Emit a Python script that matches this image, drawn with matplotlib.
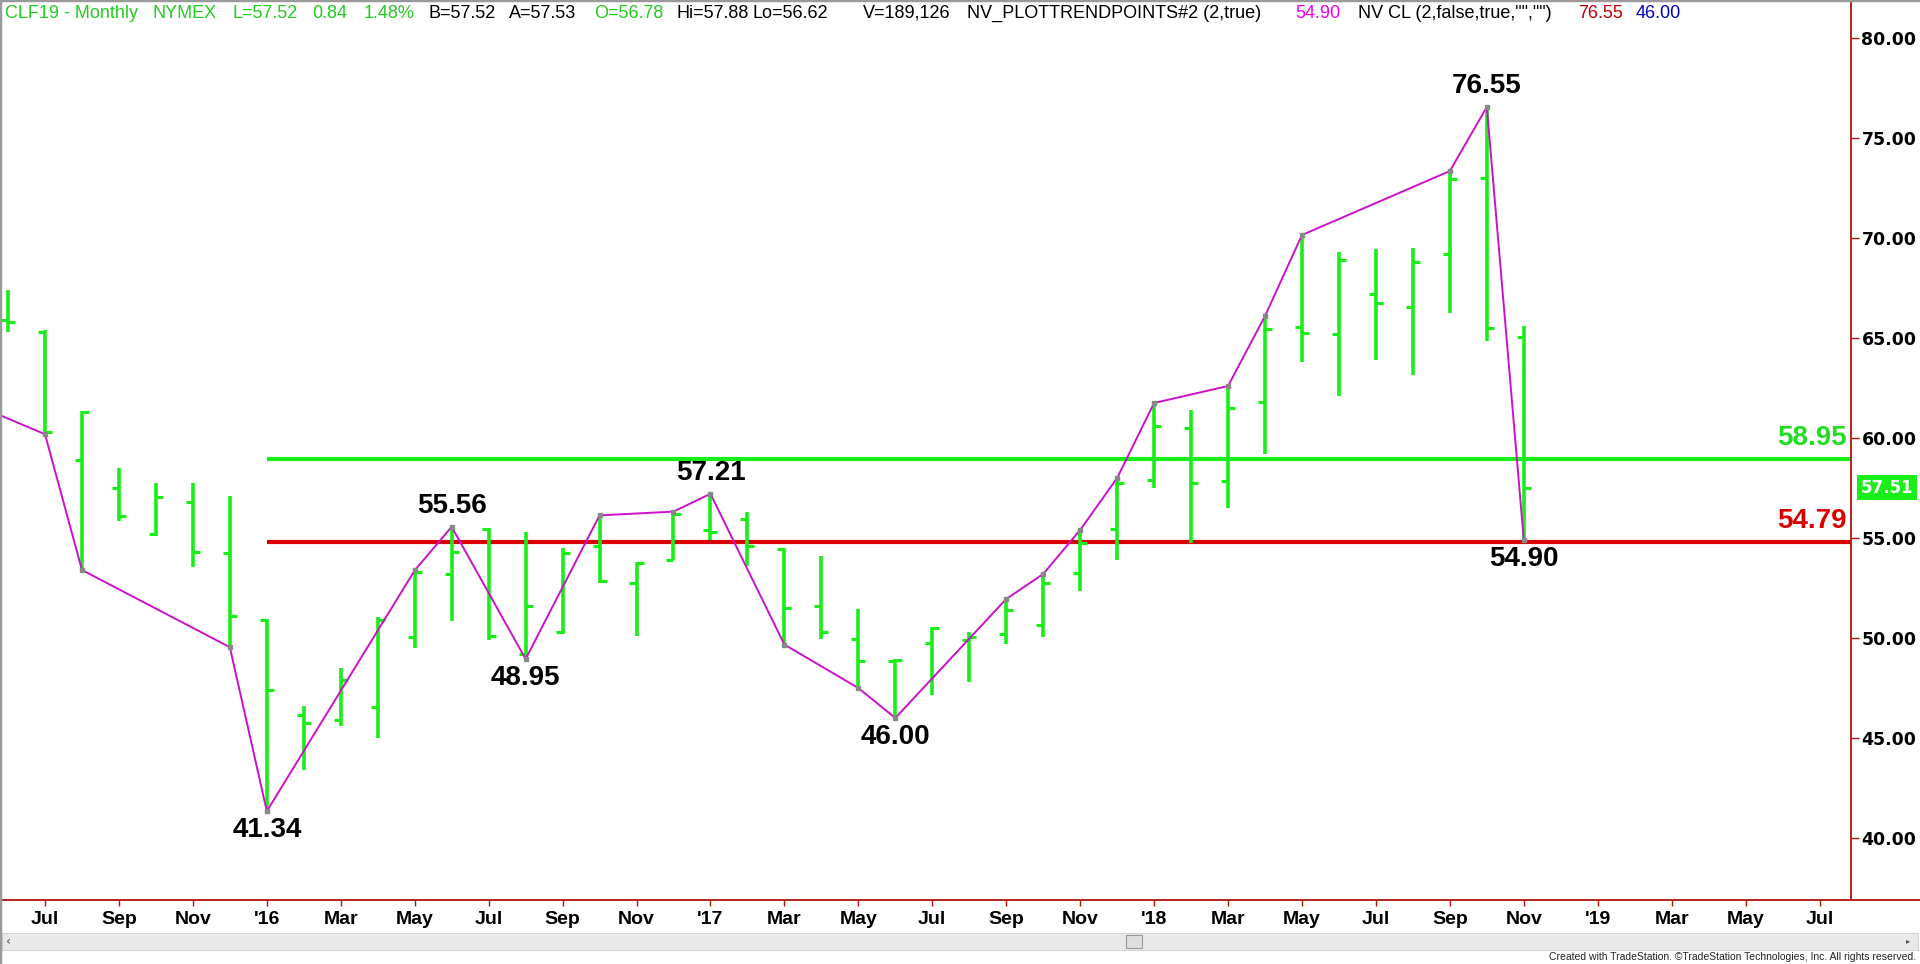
import matplotlib
matplotlib.use("Agg")
import matplotlib.pyplot as plt
from matplotlib.patches import Rectangle
from matplotlib.lines import Line2D

# monthly bars, month index 0 = Jul 2015
bar_month = list(range(-1, 41))
opens = [65.9, 65.3, 58.9, 57.5, 55.2, 56.8, 54.25, 50.9, 46.15, 45.9, 46.55,
         50.05, 53.2, 55.45, 49.2, 50.3, 54.6, 52.75, 53.9, 55.4, 55.95, 54.45,
         51.6, 49.95, 48.85, 49.75, 49.9, 50.2, 50.65, 53.25, 55.45, 57.9, 60.5,
         57.85, 61.8, 65.55, 65.2, 67.2, 66.55, 69.2, 73.0, 65.05]
highs = [67.4, 65.4, 61.35, 58.5, 57.75, 57.75, 57.1, 50.95, 46.6, 48.5, 51.05,
         53.38, 55.56, 55.5, 55.3, 54.5, 56.13, 53.8, 56.32, 57.21, 56.3, 54.5,
         54.1, 51.45, 48.95, 50.55, 50.3, 51.95, 53.2, 55.4, 58.0, 61.75, 61.4,
         62.6, 66.1, 70.15, 69.3, 69.45, 69.5, 73.35, 76.55, 65.6]
lows = [65.3, 60.19, 53.4, 55.85, 55.1, 53.55, 49.54, 41.34, 43.4, 45.6, 45.0,
        49.5, 50.85, 49.9, 48.95, 50.2, 52.75, 50.1, 53.9, 54.9, 53.6, 49.67,
        49.95, 47.5, 46.0, 47.15, 47.8, 49.7, 50.05, 52.35, 53.9, 57.5, 54.75,
        56.5, 59.2, 63.8, 62.1, 63.9, 63.15, 66.25, 64.85, 54.90]
closes = [65.8, 60.3, 61.3, 56.1, 57.05, 54.3, 51.1, 47.4, 45.75, 47.9, 50.9,
          53.3, 54.3, 50.1, 51.6, 54.25, 52.85, 53.75, 56.2, 55.3, 54.6, 51.5,
          50.3, 48.85, 48.9, 50.5, 50.05, 51.4, 52.75, 54.75, 57.75, 60.6, 57.75,
          61.5, 65.45, 65.25, 68.9, 66.75, 68.8, 72.95, 65.5, 57.52]

# trend points (NV_PLOTTRENDPOINTS)
pivot_month = [-2, 0, 1, 5, 6, 10, 11, 13, 15, 17, 18, 20, 22, 23, 26, 27, 28,
               29, 30, 32, 33, 34, 38, 39, 40]
pivot_price = [61.75, 60.19, 53.4, 49.54, 41.34, 53.38, 55.56, 48.95, 56.13,
               56.32, 57.21, 49.67, 47.5, 46.0, 51.95, 53.2, 55.4, 58.0, 61.75,
               62.6, 66.1, 70.15, 73.35, 76.55, 54.90]

label_month = [6, 11, 13, 18, 23, 39, 40]
label_price = [41.34, 55.56, 48.95, 57.21, 46.00, 76.55, 54.90]
label_above = [False, True, False, True, False, True, False]

level_prices = [58.95, 54.79]
level_start = 6
last_price = 57.51

month_ticks = list(range(0, 49, 2))
month_labels = ["Jul", "Sep", "Nov", "'16", "Mar", "May", "Jul", "Sep", "Nov",
                "'17", "Mar", "May", "Jul", "Sep", "Nov", "'18", "Mar", "May",
                "Jul", "Sep", "Nov", "'19", "Mar", "May", "Jul"]
year_ticks = [6, 18, 30, 42]
price_ticks = [40, 45, 50, 55, 60, 65, 70, 75, 80]

header = [("CLF19 - Monthly", "#22cc22"), ("NYMEX", "#22cc22"),
          ("L=57.52", "#22cc22"), ("0.84", "#22cc22"), ("1.48%", "#22cc22"),
          ("B=57.52", "black"), ("A=57.53", "black"), ("O=56.78", "#22cc22"),
          ("Hi=57.88", "black"), ("Lo=56.62", "black"), ("V=189,126", "black"),
          ("NV_PLOTTRENDPOINTS#2 (2,true)", "black"), ("54.90", "#ee00ee"),
          ('NV CL (2,false,true,"","")', "black"), ("76.55", "#c00000"),
          ("46.00", "#0000bb")]
header_x = [5, 153, 233, 312, 364, 428, 509, 594, 676, 753, 863, 967, 1295,
            1358, 1578, 1636]

W, H = 1920, 964
GREEN = "#19ee19"
RED = "#d80000"
AXC = "#b01010"
FONT = "Liberation Sans"

fig = plt.figure(figsize=(W / 100, H / 100), dpi=100)
fig.patch.set_facecolor("white")
ax = fig.add_axes([0, (H - 900) / H, 1851 / W, 900 / H])

px_per_month = 36.97
x_left = -45 / px_per_month
x_right = (1851 - 45) / px_per_month
ax.set_xlim(x_left, x_right)
ax.set_ylim(80 - 862 / 20, 80 + 38 / 20)

# bars
tl = 0.19
ax.vlines(bar_month, lows, highs, color=GREEN, lw=2.6, zorder=3)
ax.hlines(opens, [m - tl for m in bar_month], bar_month, color=GREEN, lw=2.2, zorder=3)
ax.hlines(closes, bar_month, [m + tl for m in bar_month], color=GREEN, lw=2.2, zorder=3)

# levels
ax.hlines(level_prices, level_start, x_right, colors=[GREEN, RED], lw=3, zorder=2)
for p, c in zip(level_prices, ["#22dd22", RED]):
    ax.annotate(f"{p:.2f}", xy=(1, p), xycoords=("axes fraction", "data"),
                xytext=(-4, 8), textcoords="offset pixels", ha="right", va="bottom",
                fontsize=20, fontweight="bold", color=c, family=FONT)

# trend line
ax.plot(pivot_month, pivot_price, color="#cc11cc", lw=1.4, zorder=4)
ax.plot(pivot_month, pivot_price, ls="none", marker="s", ms=2.5, color="#888888", zorder=5)
for m, p, up in zip(label_month, label_price, label_above):
    ax.annotate(f"{p:.2f}", xy=(m, p), xytext=(0, 8 if up else -6),
                textcoords="offset pixels", ha="center",
                va="bottom" if up else "top", fontsize=20, fontweight="bold",
                family=FONT, color="black", zorder=6)

# last price box
ax.annotate(f"{last_price:.2f}", xy=(1, last_price), xycoords=("axes fraction", "data"),
            xytext=(36, 0), textcoords="offset pixels", ha="center", va="center",
            fontsize=12, fontweight="bold", family="DejaVu Sans", color="white",
            bbox=dict(boxstyle="square,pad=0.2", fc=GREEN, ec="none"),
            annotation_clip=False)

# axes styling
for s in ["left", "top"]:
    ax.spines[s].set_visible(False)
for s in ["right", "bottom"]:
    ax.spines[s].set_color(AXC)
    ax.spines[s].set_linewidth(1.3)
ax.yaxis.tick_right()
ax.set_yticks(price_ticks)
ax.set_yticklabels([f"{v:.2f}" for v in price_ticks])
ax.tick_params(axis="y", direction="out", length=6, width=1, color=AXC, pad=1.5,
               labelsize=12.5)
for lab in ax.get_yticklabels():
    lab.set_fontweight("bold")
    lab.set_family("DejaVu Sans")
ax.set_xticks(month_ticks)
ax.set_xticklabels(month_labels)
ax.set_xticks(year_ticks, minor=True)
ax.tick_params(axis="x", which="major", direction="out", length=4, width=1,
               color=AXC, pad=4, labelsize=14)
ax.tick_params(axis="x", which="minor", direction="out", length=9, width=1, color=AXC)
for lab in ax.get_xticklabels():
    lab.set_fontweight("bold")
    lab.set_family(FONT)


def fx(x):
    return x / W


def fy(y):
    return 1 - y / H


# header
for (t, c), x in zip(header, header_x):
    fig.text(fx(x), fy(13), t, color=c, fontsize=13, family=FONT, ha="left", va="center")

# x-axis line continues past the price scale
fig.add_artist(Line2D([fx(1851), 1], [fy(900), fy(900)], color=AXC, lw=1.3))

# scrollbar
fig.add_artist(Rectangle((fx(2), fy(950)), fx(1916), 17 / H, fc="#e9e9e9", ec="#d4d4d4", lw=0.8))
fig.add_artist(Rectangle((fx(1126), fy(948)), fx(16), 13 / H, fc="#dedede", ec="#9a9a9a", lw=0.8))
fig.text(fx(6), fy(941), "\u2039", fontsize=9, color="#555555", va="center")
fig.text(fx(1906), fy(941), "\u25b8", fontsize=6, color="#555555", va="center")
fig.text(fx(1916), fy(957), "Created with TradeStation. \u00a9TradeStation Technologies, Inc. All rights reserved.",
         fontsize=7.5, family=FONT, color="#222222", ha="right", va="center")

# window borders
fig.add_artist(Line2D([0, 0], [0, 1], color="#9a9a9a", lw=2.5))
fig.add_artist(Line2D([0, 1], [1, 1], color="#9a9a9a", lw=2.5))

fig.savefig("out.png", dpi=100, facecolor="white")
